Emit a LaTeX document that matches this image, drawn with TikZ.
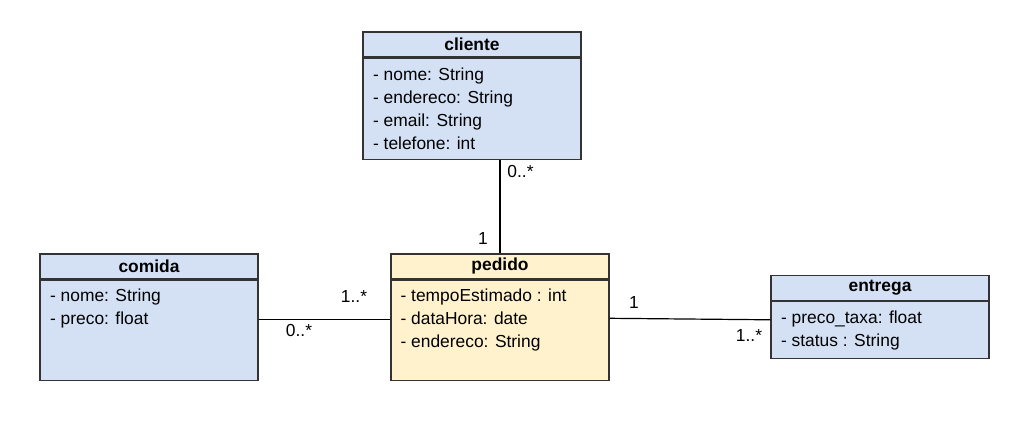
\documentclass[tikz,border=0pt]{standalone}
\usepackage{fontspec}
\setmainfont{Liberation Sans}
\usetikzlibrary{positioning}

\definecolor{classblue}{HTML}{D4E1F5}
\definecolor{classyellow}{HTML}{FFF2CC}
\definecolor{classline}{HTML}{333333}

\tikzset{
    classhead/.style={draw=classline, line width=1.3pt, minimum width=218pt, minimum height=25pt,
        inner sep=0pt, font=\fontsize{17.4}{20}\selectfont\bfseries},
    classbody/.style={draw=classline, line width=1.3pt, minimum width=218pt, inner sep=0pt},
    attr/.style={anchor=base west, inner sep=0pt, font=\fontsize{17.4}{20}\selectfont},
    mult/.style={anchor=base, inner sep=0pt, font=\fontsize{17.4}{20}\selectfont},
    assoc/.style={draw=black, line width=1.2pt},
}

\begin{document}
\begin{tikzpicture}[x=1pt, y=-1pt]
    \useasboundingbox (0,0) rectangle (1012,427);

    % cliente
    \node [classhead, fill=classblue] (cliente) at (472,44.5) {cliente};
    \node [classbody, fill=classblue, minimum height=101pt, below=0pt of cliente] (clienteBody) {};
    \node [attr] (clienteNome) at ([xshift=10.5pt, yshift=-22.5pt]clienteBody.north west) {- nome: String};
    \node [attr] (clienteEnd) at ([yshift=-23pt]clienteNome.base west) {- endereco: String};
    \node [attr] (clienteEmail) at ([yshift=-23pt]clienteEnd.base west) {- email: String};
    \node [attr] (clienteTel) at ([yshift=-23pt]clienteEmail.base west) {- telefone: int};

    % comida
    \node [classhead, fill=classblue] (comida) at (149,266.5) {comida};
    \node [classbody, fill=classblue, minimum height=100pt, below=0pt of comida] (comidaBody) {};
    \node [attr] (comidaNome) at ([xshift=10.5pt, yshift=-21.5pt]comidaBody.north west) {- nome: String};
    \node [attr] (comidaPreco) at ([yshift=-23pt]comidaNome.base west) {- preco: float};

    % pedido
    \node [classhead, fill=classyellow] (pedido) at (500,266.5) {pedido};
    \node [classbody, fill=classyellow, minimum height=100pt, below=0pt of pedido] (pedidoBody) {};
    \node [attr] (pedidoTempo) at ([xshift=10pt, yshift=-21.5pt]pedidoBody.north west) {- tempoEstimado : int};
    \node [attr] (pedidoData) at ([yshift=-23pt]pedidoTempo.base west) {- dataHora: date};
    \node [attr] (pedidoEnd) at ([yshift=-23pt]pedidoData.base west) {- endereco: String};

    % entrega
    \node [classhead, fill=classblue] (entrega) at (880,288) {entrega};
    \node [classbody, fill=classblue, minimum height=57pt, below=0pt of entrega] (entregaBody) {};
    \node [attr] (entregaTaxa) at ([xshift=10.5pt, yshift=-22.5pt]entregaBody.north west) {- preco\_taxa: float};
    \node [attr] (entregaStatus) at ([yshift=-23pt]entregaTaxa.base west) {- status : String};

    % associacoes
    \draw [assoc] (clienteBody.south -| pedido.north) -- (pedido.north);
    \draw [assoc] ([yshift=11pt]comidaBody.east) -- ([yshift=11pt]pedidoBody.west);
    \draw [assoc] ([yshift=12pt]pedidoBody.east) -- ([yshift=10.5pt]entregaBody.west);

    % multiplicidades
    \node [mult] (mClientePedido) at (520.5,178) {0..*};
    \node [mult] (mPedidoCliente) at (483,245) {1};
    \node [mult] (mPedidoComida) at (354,303) {1..*};
    \node [mult] (mComidaPedido) at (299,337) {0..*};
    \node [mult] (mPedidoEntrega) at (634,309) {1};
    \node [mult] (mEntregaPedido) at (749,342) {1..*};
\end{tikzpicture}
\end{document}
